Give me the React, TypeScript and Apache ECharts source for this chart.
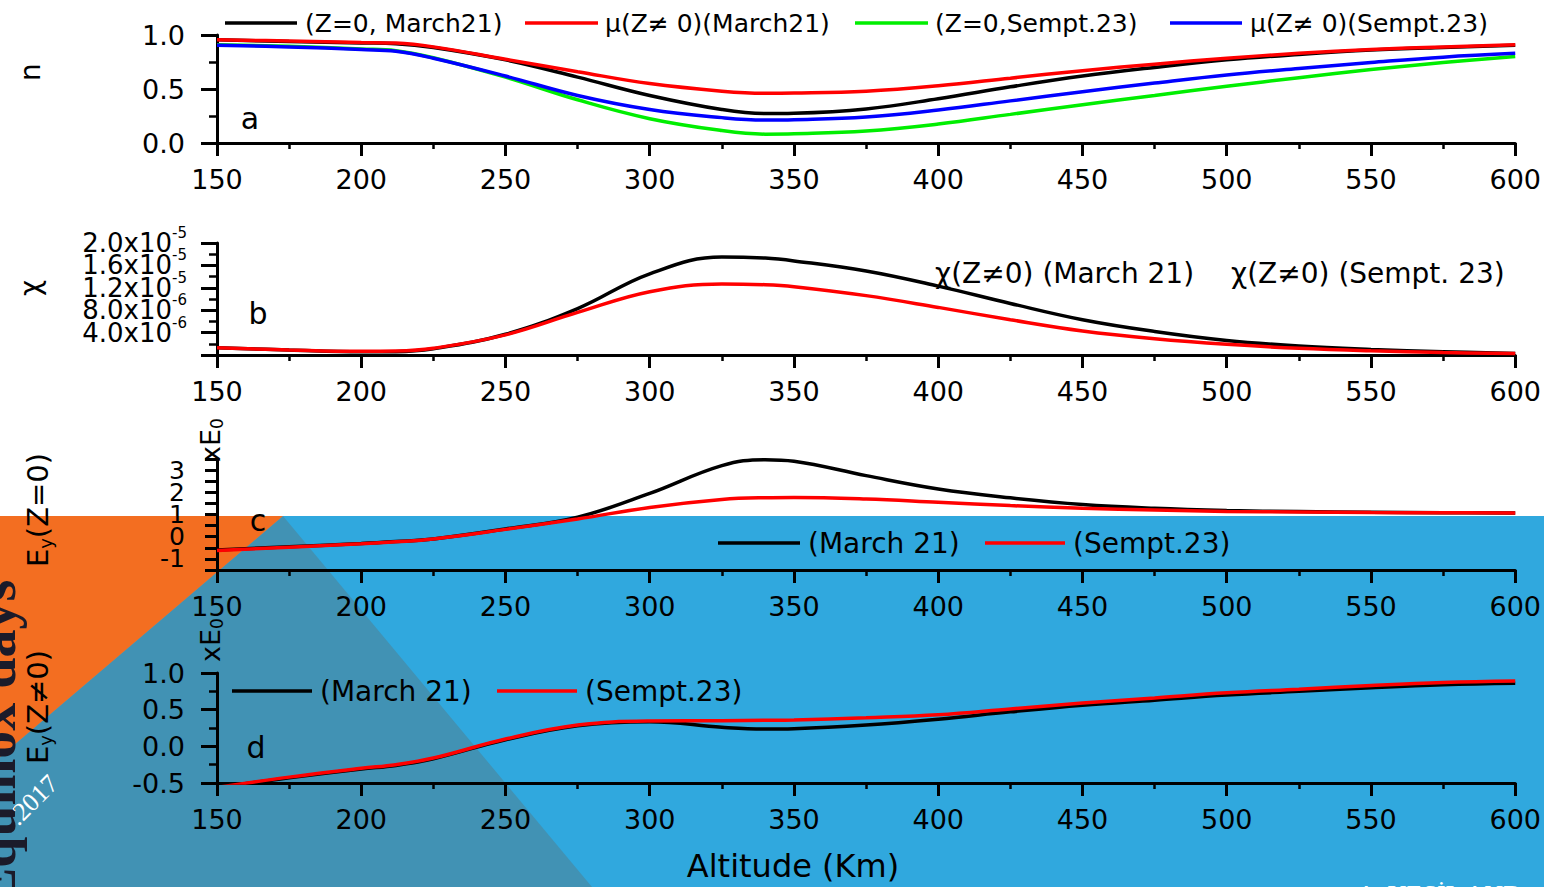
import React, { useEffect, useRef } from "react";
import * as echarts from "echarts";

const FONT = "DejaVu Sans";

// Altitude sampling (km)
const altitudes = [150, 175, 200, 212, 225, 250, 275, 300, 325, 340, 350, 375, 400, 425, 450, 475, 500, 525, 550, 575, 600];

// Panel a: refractive index n
const nZ0March = [0.955, 0.94, 0.927, 0.92, 0.885, 0.77, 0.61, 0.44, 0.31, 0.272, 0.275, 0.315, 0.41, 0.52, 0.62, 0.7, 0.77, 0.82, 0.86, 0.885, 0.905];
const muMarch = [0.955, 0.945, 0.93, 0.925, 0.89, 0.775, 0.66, 0.55, 0.48, 0.46, 0.462, 0.48, 0.53, 0.6, 0.67, 0.73, 0.785, 0.83, 0.865, 0.89, 0.91];
const nZ0Sept = [0.91, 0.895, 0.87, 0.855, 0.79, 0.61, 0.4, 0.225, 0.115, 0.082, 0.085, 0.11, 0.175, 0.265, 0.355, 0.44, 0.525, 0.605, 0.68, 0.745, 0.8];
const muSept = [0.905, 0.89, 0.865, 0.85, 0.785, 0.62, 0.44, 0.31, 0.235, 0.212, 0.215, 0.24, 0.305, 0.39, 0.475, 0.555, 0.63, 0.69, 0.745, 0.795, 0.83];

// Panel b: absorption chi, in units of 1e-6
const chiMarch = [1.3, 0.9, 0.6, 0.6, 1.1, 3.7, 8.3, 14.5, 17.5, 17.3, 16.8, 15.0, 12.3, 9.2, 6.3, 4.2, 2.6, 1.6, 1.0, 0.6, 0.25];
const chiSept = [1.3, 0.9, 0.65, 0.7, 1.2, 3.6, 7.6, 11.3, 12.7, 12.55, 12.2, 10.6, 8.5, 6.3, 4.3, 2.9, 1.9, 1.2, 0.75, 0.45, 0.25];
const chiTickValues = [4, 8, 12, 16, 20];
const chiTickMantissa = ["4.0", "8.0", "1.2", "1.6", "2.0"];
const chiTickExponent = ["-6", "-6", "-5", "-5", "-5"];

// Panel c: Ey (Z=0) x E0
const eyZ0March = [-0.6, -0.45, -0.31, -0.22, -0.1, 0.35, 0.88, 1.95, 3.2, 3.47, 3.4, 2.75, 2.15, 1.75, 1.45, 1.28, 1.18, 1.13, 1.1, 1.08, 1.07];
const eyZ0Sept = [-0.62, -0.47, -0.32, -0.23, -0.1, 0.33, 0.8, 1.32, 1.68, 1.76, 1.77, 1.7, 1.55, 1.4, 1.28, 1.2, 1.14, 1.11, 1.09, 1.08, 1.07];
const cTickLabels = [-1, 0, 1, 2, 3];

// Panel d: Ey (Z≠0) x E0
const eyNZMarch = [-0.56, -0.43, -0.31, -0.26, -0.17, 0.09, 0.28, 0.335, 0.26, 0.235, 0.24, 0.29, 0.37, 0.47, 0.56, 0.63, 0.7, 0.75, 0.8, 0.84, 0.86];
const eyNZSept = [-0.56, -0.42, -0.3, -0.25, -0.16, 0.1, 0.29, 0.345, 0.35, 0.355, 0.36, 0.39, 0.43, 0.51, 0.59, 0.66, 0.73, 0.78, 0.83, 0.87, 0.89];

const RED = "#ff0000";
const GREEN = "#00ee00";
const BLUE = "#0000ff";
const BLACK = "#000000";

const pairs = (ys: number[]) => altitudes.map((a, i) => [a, ys[i]]);

function lineSeries(name: string, ys: number[], color: string, idx: number) {
  return {
    type: "line",
    name,
    data: pairs(ys),
    xAxisIndex: idx,
    yAxisIndex: idx,
    showSymbol: false,
    smooth: 0.4,
    lineStyle: { color, width: 3.5 },
    itemStyle: { color },
  };
}

function text(x: number, y: number, t: string, size: number, extra: any = {}) {
  return {
    type: "text",
    x,
    y,
    z: 10,
    style: {
      text: t,
      fontSize: size,
      fontFamily: FONT,
      fill: "#000",
      textAlign: "left",
      textVerticalAlign: "middle",
      ...(extra.style || {}),
    },
    ...(extra.el || {}),
  };
}

function legendLine(x1: number, x2: number, y: number, color: string) {
  return {
    type: "line",
    z: 10,
    shape: { x1, y1: y, x2, y2: y },
    style: { stroke: color, lineWidth: 3.5 },
  };
}

function rotatedRich(x: number, y: number, t: string, size: number, subSize: number) {
  return {
    type: "text",
    x,
    y,
    z: 10,
    rotation: Math.PI / 2,
    style: {
      text: t,
      fontFamily: FONT,
      fontSize: size,
      fill: "#000",
      textAlign: "center",
      textVerticalAlign: "middle",
      rich: {
        b: { fontSize: size, fontFamily: FONT, fill: "#000" },
        s: { fontSize: subSize, fontFamily: FONT, fill: "#000", padding: [14, 0, 0, 0] },
      },
    },
  };
}

const chiFormatter = (v: number) => {
  const k = chiTickValues.indexOf(Math.round(v));
  if (k < 0) return "";
  return "{m|" + chiTickMantissa[k] + "x10}{s|" + chiTickExponent[k] + "}";
};
const chiRich = {
  m: { fontSize: 26, fontFamily: FONT, color: BLACK },
  s: { fontSize: 15, fontFamily: FONT, color: BLACK, padding: [0, 0, 20, 0] },
};

export default function App() {
  const ref = useRef<HTMLDivElement>(null);

  useEffect(() => {
    if (!ref.current) return;
    const chart = echarts.init(ref.current, undefined, { renderer: "svg" });

    const axisLine = { show: true, onZero: false, lineStyle: { color: BLACK, width: 3 } };
    const labelCommon = { showMinLabel: true, showMaxLabel: true, hideOverlap: false };
    const xAxes = [0, 1, 2, 3].map((i) => ({
      type: "value",
      gridIndex: i,
      min: 150,
      max: 600,
      interval: 50,
      axisLine,
      axisTick: { show: true, length: 13, lineStyle: { color: BLACK, width: 3 } },
      minorTick: { show: true, splitNumber: 2, length: 6, lineStyle: { color: BLACK, width: 2.5 } },
      splitLine: { show: false },
      minorSplitLine: { show: false },
      axisLabel: { ...labelCommon, fontSize: 27, fontFamily: FONT, color: BLACK, margin: 23 },
    }));

    const yTick = { show: true, length: 16, lineStyle: { color: BLACK, width: 3 } };
    const yMinor = { show: true, splitNumber: 2, length: 8, lineStyle: { color: BLACK, width: 2.5 } };
    const yBase = {
      type: "value",
      position: "left",
      axisLine,
      splitLine: { show: false },
      minorSplitLine: { show: false },
    };

    const yAxes = [
      {
        ...yBase,
        gridIndex: 0,
        min: 0,
        max: 1,
        interval: 0.5,
        axisTick: yTick,
        minorTick: yMinor,
        axisLabel: {
          ...labelCommon,
          fontSize: 27,
          fontFamily: FONT,
          color: BLACK,
          margin: 32,
          formatter: (v: number) => v.toFixed(1),
        },
      },
      {
        ...yBase,
        gridIndex: 1,
        min: 0,
        max: 20,
        interval: 4,
        axisTick: yTick,
        minorTick: yMinor,
        axisLabel: {
          hideOverlap: false,
          showMinLabel: true,
          showMaxLabel: false,
          margin: 30,
          color: BLACK,
          formatter: chiFormatter,
          rich: chiRich,
        },
      },
      {
        ...yBase,
        gridIndex: 2,
        min: -1.5,
        max: 3.5,
        interval: 0.5,
        axisTick: { show: true, length: 12, lineStyle: { color: BLACK, width: 3 } },
        axisLabel: {
          ...labelCommon,
          fontSize: 25,
          fontFamily: FONT,
          color: BLACK,
          margin: 32,
          formatter: (v: number) => (cTickLabels.indexOf(v) >= 0 ? String(v) : ""),
        },
      },
      {
        ...yBase,
        gridIndex: 3,
        min: -0.5,
        max: 1,
        interval: 0.5,
        axisTick: yTick,
        minorTick: yMinor,
        axisLabel: {
          ...labelCommon,
          fontSize: 27,
          fontFamily: FONT,
          color: BLACK,
          margin: 32,
          formatter: (v: number) => v.toFixed(1),
        },
      },
      // overlay axis on panel b carrying only the top (max) label
      {
        ...yBase,
        gridIndex: 1,
        min: 0,
        max: 20,
        interval: 4,
        axisLine: { show: false, onZero: false },
        axisTick: { show: false },
        axisLabel: {
          hideOverlap: false,
          showMinLabel: false,
          showMaxLabel: true,
          margin: 30,
          color: BLACK,
          formatter: (v: number) => (Math.round(v) === 20 ? chiFormatter(v) : ""),
          rich: chiRich,
        },
      },
    ];

    const graphic: any[] = [
      // slide background
      { type: "rect", z: -20, shape: { x: 0, y: 516, width: 1544, height: 371 }, style: { fill: "#30a8de" } },
      {
        type: "polygon",
        z: -19,
        shape: { points: [[283, 516], [592, 887], [0, 887], [0, 757]] },
        style: { fill: "#4192b4" },
      },
      {
        type: "polygon",
        z: -18,
        shape: { points: [[0, 516], [283, 516], [0, 757]] },
        style: { fill: "#f36e21" },
      },
      {
        type: "text",
        x: 24,
        y: 905,
        z: -17,
        rotation: Math.PI / 2,
        style: {
          text: "Equinox days",
          fontFamily: "Liberation Serif",
          fontWeight: "bold",
          fontSize: 56,
          fill: "#1b1b2a",
          textAlign: "left",
          textVerticalAlign: "bottom",
        },
      },
      {
        type: "text",
        x: 33,
        y: 800,
        z: -17,
        rotation: Math.PI / 4,
        style: {
          text: ".2017",
          fontFamily: "Liberation Serif",
          fontSize: 26,
          fill: "#ffffff",
          textAlign: "center",
          textVerticalAlign: "middle",
        },
      },
      {
        type: "text",
        x: 1357,
        y: 881,
        z: -17,
        style: {
          text: "A. YESİL AND",
          fontFamily: "Liberation Serif",
          fontSize: 26,
          fill: "#ffffff",
          textAlign: "left",
          textVerticalAlign: "top",
        },
      },
      // axis names
      text(30, 72, "n", 28, { el: { rotation: Math.PI / 2 }, style: { textAlign: "center" } }),
      text(30, 288, "χ", 28, { el: { rotation: Math.PI / 2 }, style: { textAlign: "center" } }),
      rotatedRich(38, 510, "{b|E}{s|y}{b|(Z=0)}", 29, 18),
      rotatedRich(38, 707, "{b|E}{s|y}{b|(Z≠0)}", 29, 18),
      rotatedRich(210, 440, "{b|xE}{s|0}", 27, 17),
      rotatedRich(210, 640, "{b|xE}{s|0}", 27, 17),
      text(793, 866, "Altitude (Km)", 32, { style: { textAlign: "center" } }),
      // panel letters
      text(250, 118, "a", 30, { style: { textAlign: "center" } }),
      text(258, 313, "b", 30, { style: { textAlign: "center" } }),
      text(258, 520, "c", 30, { style: { textAlign: "center" } }),
      text(256, 747, "d", 30, { style: { textAlign: "center" } }),
      // legend a
      legendLine(225, 297, 23, BLACK),
      text(305, 23, "(Z=0, March21)", 25),
      legendLine(525, 598, 23, RED),
      text(605, 23, "μ(Z≠ 0)(March21)", 25),
      legendLine(855, 928, 23, GREEN),
      text(935, 23, "(Z=0,Sempt.23)", 25),
      legendLine(1170, 1242, 23, BLUE),
      text(1250, 23, "μ(Z≠ 0)(Sempt.23)", 25),
      // annotation b
      text(935, 273, "χ(Z≠0) (March 21)", 28),
      text(1231, 273, "χ(Z≠0) (Sempt. 23)", 28),
      // legend c
      legendLine(718, 800, 543, BLACK),
      text(808, 543, "(March 21)", 28),
      legendLine(985, 1065, 543, RED),
      text(1073, 543, "(Sempt.23)", 28),
      // legend d
      legendLine(232, 312, 691, BLACK),
      text(320, 691, "(March 21)", 28),
      legendLine(497, 577, 691, RED),
      text(585, 691, "(Sempt.23)", 28),
    ];

    chart.setOption({
      animation: false,
      backgroundColor: "#ffffff",
      textStyle: { fontFamily: FONT },
      grid: [
        { left: 217, top: 35, width: 1299, height: 108 },
        { left: 217, top: 243, width: 1299, height: 112 },
        { left: 217, top: 459, width: 1299, height: 111 },
        { left: 217, top: 673, width: 1299, height: 110 },
      ],
      xAxis: xAxes,
      yAxis: yAxes,
      graphic,
      series: [
        lineSeries("(Z=0, March21)", nZ0March, BLACK, 0),
        lineSeries("μ(Z≠ 0)(March21)", muMarch, RED, 0),
        lineSeries("(Z=0,Sempt.23)", nZ0Sept, GREEN, 0),
        lineSeries("μ(Z≠ 0)(Sempt.23)", muSept, BLUE, 0),
        lineSeries("χ(Z≠0) (March 21)", chiMarch, BLACK, 1),
        lineSeries("χ(Z≠0) (Sempt. 23)", chiSept, RED, 1),
        lineSeries("Ey(Z=0) (March 21)", eyZ0March, BLACK, 2),
        lineSeries("Ey(Z=0) (Sempt.23)", eyZ0Sept, RED, 2),
        lineSeries("Ey(Z≠0) (March 21)", eyNZMarch, BLACK, 3),
        lineSeries("Ey(Z≠0) (Sempt.23)", eyNZSept, RED, 3),
      ],
    });

    return () => chart.dispose();
  }, []);

  return (
    <div
      ref={ref}
      style={{ position: "absolute", left: 0, top: 0, width: 1544, height: 887, background: "#fff" }}
    />
  );
}
